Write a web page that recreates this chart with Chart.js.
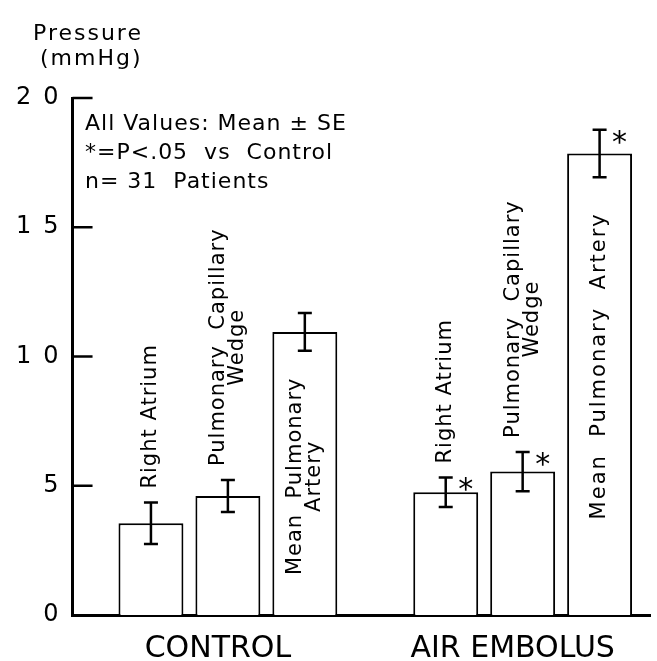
<!DOCTYPE html>
<html>
<head>
<meta charset="utf-8"/>
<title>Pressure</title>
<script src="https://cdn.jsdelivr.net/npm/chart.js@4.4.1/dist/chart.umd.min.js"></script>
<style>
  html, body { margin: 0; padding: 0; background: #fff; }
  #wrap { width: 657px; height: 661px; }
</style>
</head>
<body>
<div id="wrap"><canvas id="pressureChart" width="657" height="661"></canvas></div>
<script>
// groups along the x axis
const groups = ['CONTROL', 'AIR EMBOLUS'];
const groupPos = [0, 1];

// mean pressure (mmHg) and standard error, one value per group
const rightAtrium = [3.55, 4.75];
const rightAtriumSE = [0.8, 0.57];
const wedge = [4.6, 5.55];
const wedgeSE = [0.62, 0.76];
const pulmArtery = [10.95, 17.85];
const pulmArterySE = [0.73, 0.92];

// * = P < .05 vs control
const rightAtriumSig = [false, true];
const wedgeSig = [false, true];
const pulmArterySig = [false, true];

// text written above / inside each bar
const rightAtriumText = [['Right Atrium'], ['Right Atrium']];
const wedgeText = [['Pulmonary  Capillary', 'Wedge'], ['Pulmonary  Capillary', 'Wedge']];
const pulmArteryText = [['Mean  Pulmonary', 'Artery'], ['Mean  Pulmonary  Artery']];

const yTicks = [0, 5, 10, 15, 20];
const axisTitle = ['Pressure', '(mmHg)'];
const notes = ['All Values: Mean \u00b1 SE', '*=P<.05  vs  Control', 'n= 31  Patients'];

const FONT = "'DejaVu Sans', sans-serif";
const INK = '#000';

function series(name, values, se, sig, text, inside) {
    return {
        label: name,
        data: values.map((v, i) => ({ x: groupPos[i], y: v })),
        se: se,
        sig: sig,
        text: text,
        inside: inside,
        backgroundColor: '#fff',
        borderColor: INK,
        borderWidth: 2,
        categoryPercentage: 0.783,
        barPercentage: 0.844
    };
}

/**
 * Error bars, asterisks, bar texts, inward y ticks and the free text
 */
const decorations = {
    id: 'decorations',
    afterDatasetsDraw(chart) {
        const ctx = chart.ctx;
        const y = chart.scales.y;
        const area = chart.chartArea;
        // where the text inside a bar is centred, as a share of the bar height
        const insideMid = [0.49, 0.54];
        ctx.save();
        ctx.strokeStyle = INK;
        ctx.fillStyle = INK;

        // tick marks pointing into the plot
        ctx.lineWidth = 2.5;
        yTicks.forEach(v => {
            if (v === 0) return;
            const py = y.getPixelForValue(v);
            ctx.beginPath();
            ctx.moveTo(area.left, py);
            ctx.lineTo(area.left + 20, py);
            ctx.stroke();
        });

        chart.data.datasets.forEach((ds, d) => {
            const meta = chart.getDatasetMeta(d);
            meta.data.forEach((bar, i) => {
                const v = ds.data[i].y;
                const hi = y.getPixelForValue(v + ds.se[i]);
                const lo = y.getPixelForValue(v - ds.se[i]);
                ctx.lineWidth = 2.5;
                ctx.beginPath();
                ctx.moveTo(bar.x, hi); ctx.lineTo(bar.x, lo);
                ctx.moveTo(bar.x - 7, hi); ctx.lineTo(bar.x + 7, hi);
                ctx.moveTo(bar.x - 7, lo); ctx.lineTo(bar.x + 7, lo);
                ctx.stroke();

                if (ds.sig[i]) {
                    ctx.font = '30px ' + FONT;
                    ctx.textAlign = 'center';
                    ctx.textBaseline = 'alphabetic';
                    ctx.fillText('*', bar.x + 20, hi + 22);
                }

                // rotated bar text
                const lines = ds.text[i];
                ctx.font = '21px ' + FONT;
                ctx.letterSpacing = (ds.inside && lines.length === 1) ? '2px' : '1px';
                ctx.textAlign = 'center';
                ctx.textBaseline = 'middle';
                const w = ctx.measureText(lines[0]).width;
                let anchor, along;
                if (ds.inside) {
                    anchor = y.getPixelForValue(v * insideMid[i]);
                    along = 0;
                } else {
                    anchor = hi - 14;
                    along = w / 2;
                }
                ctx.save();
                ctx.translate(bar.x, anchor);
                ctx.rotate(-Math.PI / 2);
                lines.forEach((t, k) => {
                    const off = (k - (lines.length - 1) / 2) * 19;
                    ctx.fillText(t, along, off);
                });
                ctx.restore();
                ctx.letterSpacing = '0px';
            });
        });

        // axis title
        ctx.font = '22px ' + FONT;
        ctx.letterSpacing = '2px';
        ctx.textAlign = 'left';
        ctx.textBaseline = 'alphabetic';
        ctx.fillText(axisTitle[0], 33, 40);
        ctx.fillText(axisTitle[1], 40, 65);

        // notes in the upper left
        ctx.letterSpacing = '1px';
        notes.forEach((t, k) => ctx.fillText(t, 85, 130 + k * 29));
        ctx.restore();
    }
};

const pressureChart = new Chart(document.getElementById('pressureChart'), {
    type: 'bar',
    data: {
        datasets: [
            series('Right Atrium', rightAtrium, rightAtriumSE, rightAtriumSig, rightAtriumText, false),
            series('Pulmonary Capillary Wedge', wedge, wedgeSE, wedgeSig, wedgeText, false),
            series('Mean Pulmonary Artery', pulmArtery, pulmArterySE, pulmArterySig, pulmArteryText, true)
        ]
    },
    options: {
        responsive: false,
        animation: false,
        layout: { padding: { left: 2, right: 7, top: 98, bottom: -22 } },
        plugins: {
            legend: { display: false },
            tooltip: { enabled: false }
        },
        scales: {
            x: {
                type: 'linear',
                min: -0.527,
                max: 1.432,
                offset: false,
                grid: { display: false, drawTicks: false },
                border: { display: true, color: INK, width: 3 },
                afterBuildTicks: axis => { axis.ticks = groupPos.map(v => ({ value: v })); },
                ticks: {
                    callback: v => groups[v] ?? '',
                    autoSkip: false,
                    maxRotation: 0,
                    labelOffset: -10,
                    padding: 19,
                    color: INK,
                    font: { family: FONT, size: 30, lineHeight: 1 }
                }
            },
            y: {
                min: 0,
                max: 20,
                grid: { display: false, drawTicks: false },
                border: { display: true, color: INK, width: 3 },
                afterBuildTicks: axis => { axis.ticks = yTicks.map(v => ({ value: v })); },
                ticks: {
                    callback: v => String(v).split('').join('\u2002'),
                    padding: 14,
                    color: INK,
                    font: { family: FONT, size: 24 }
                }
            }
        }
    },
    plugins: [decorations]
});
</script>
</body>
</html>
